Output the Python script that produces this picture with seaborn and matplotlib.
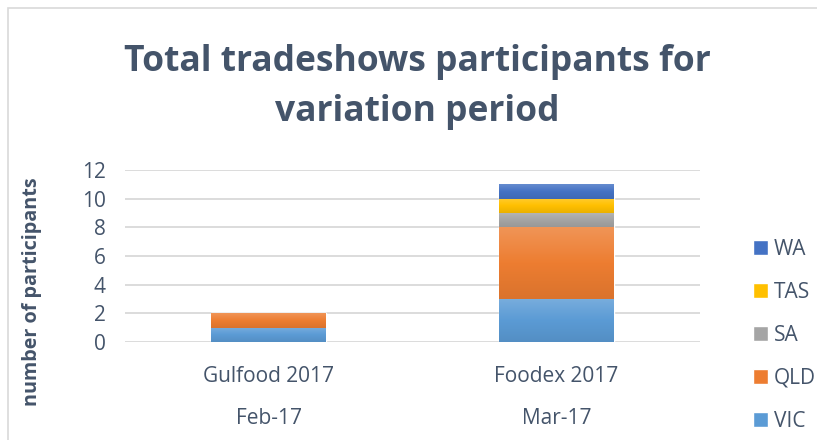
import numpy as np
import matplotlib
matplotlib.use("Agg")
import matplotlib.pyplot as plt
import seaborn as sns
from matplotlib.colors import LinearSegmentedColormap, to_rgb
from matplotlib.patches import Patch, Rectangle

# data
shows = ["Gulfood 2017", "Foodex 2017"]
months = ["Feb-17", "Mar-17"]
states = ["VIC", "QLD", "SA", "TAS", "WA"]
vic = [1, 3]
qld = [1, 5]
sa = [0, 1]
tas = [0, 1]
wa = [0, 1]
colors = ["#5B9BD5", "#ED7D31", "#A5A5A5", "#FFC000", "#4472C4"]

text_col = "#44546A"
sns.set_theme(style="white")
plt.rcParams["font.family"] = ["Open Sans", "DejaVu Sans"]


def mix(c, other, t):
    c = np.array(to_rgb(c))
    return tuple(c * (1 - t) + np.array(other) * t)


fig = plt.figure(figsize=(8.17, 4.4), dpi=100)
ax = fig.add_axes([125 / 817, 1 - 342 / 440, 575 / 817, 172 / 440])

series = [vic, qld, sa, tas, wa]
bottom = np.zeros(len(shows))
for name, vals, c in zip(states, series, colors):
    n_before = len(ax.patches)
    sns.barplot(x=shows, y=vals, bottom=bottom, order=shows, color=c,
                width=0.4, errorbar=None, ax=ax, saturation=1)
    new = ax.patches[n_before:]
    for p in new:
        h = p.get_height()
        if h <= 0:
            continue
        cmap = LinearSegmentedColormap.from_list(
            "g", [mix(c, (0, 0, 0), 0.08), c, mix(c, (1, 1, 1), 0.18)])
        grad = np.linspace(0, 1, 64).reshape(-1, 1)
        im = ax.imshow(grad, extent=[p.get_x(), p.get_x() + p.get_width(),
                                     p.get_y(), p.get_y() + h],
                       origin="lower", cmap=cmap, aspect="auto",
                       zorder=p.get_zorder() + 0.1)
        im.set_clip_path(p)
    bottom = bottom + np.array(vals)

ax.set_xlim(-0.5, 1.5)
ax.set_ylim(0, 12)
ax.set_yticks(range(0, 13, 2))
ax.yaxis.grid(True, color="#D9D9D9", linewidth=1.3)
ax.set_axisbelow(True)
sns.despine(ax=ax, left=True, bottom=True)
ax.tick_params(axis="both", length=0, labelsize=15, labelcolor=text_col)
ax.tick_params(axis="y", pad=14)
ax.tick_params(axis="x", pad=17)
ax.set_xlabel("")
ax.set_ylabel("")

# second level of category labels
for i, m in enumerate(months):
    ax.text(i, -0.445, m, transform=ax.get_xaxis_transform(), ha="center",
            va="center", fontsize=15, color=text_col)

fig.text(32 / 817, 1 - 292 / 440, "number of participants", rotation=90,
         ha="center", va="center", fontsize=14.2, fontweight="bold",
         color=text_col)

fig.text(417 / 817, 1 - 87 / 440, "Total tradeshows participants for\nvariation period",
         ha="center", va="center", fontsize=25.5, fontweight="bold",
         color=text_col, linespacing=1.5)

handles = [Patch(facecolor=c, label=s) for s, c in zip(states, colors)][::-1]
leg = fig.legend(handles=handles, loc="upper left",
                 bbox_to_anchor=(753 / 817, 1 - 239 / 440), frameon=False,
                 fontsize=15, handlelength=0.7, handleheight=0.7,
                 handletextpad=0.3, labelspacing=1.05, borderpad=0,
                 borderaxespad=0)
for t in leg.get_texts():
    t.set_color(text_col)

# outer chart border
fig.patches.append(Rectangle((8 / 817, -0.1), 1.2, 1 - 8 / 440 + 0.1,
                             transform=fig.transFigure, fill=False,
                             edgecolor="#D9D9D9", linewidth=1.2))

fig.savefig("out.png", dpi=100)
